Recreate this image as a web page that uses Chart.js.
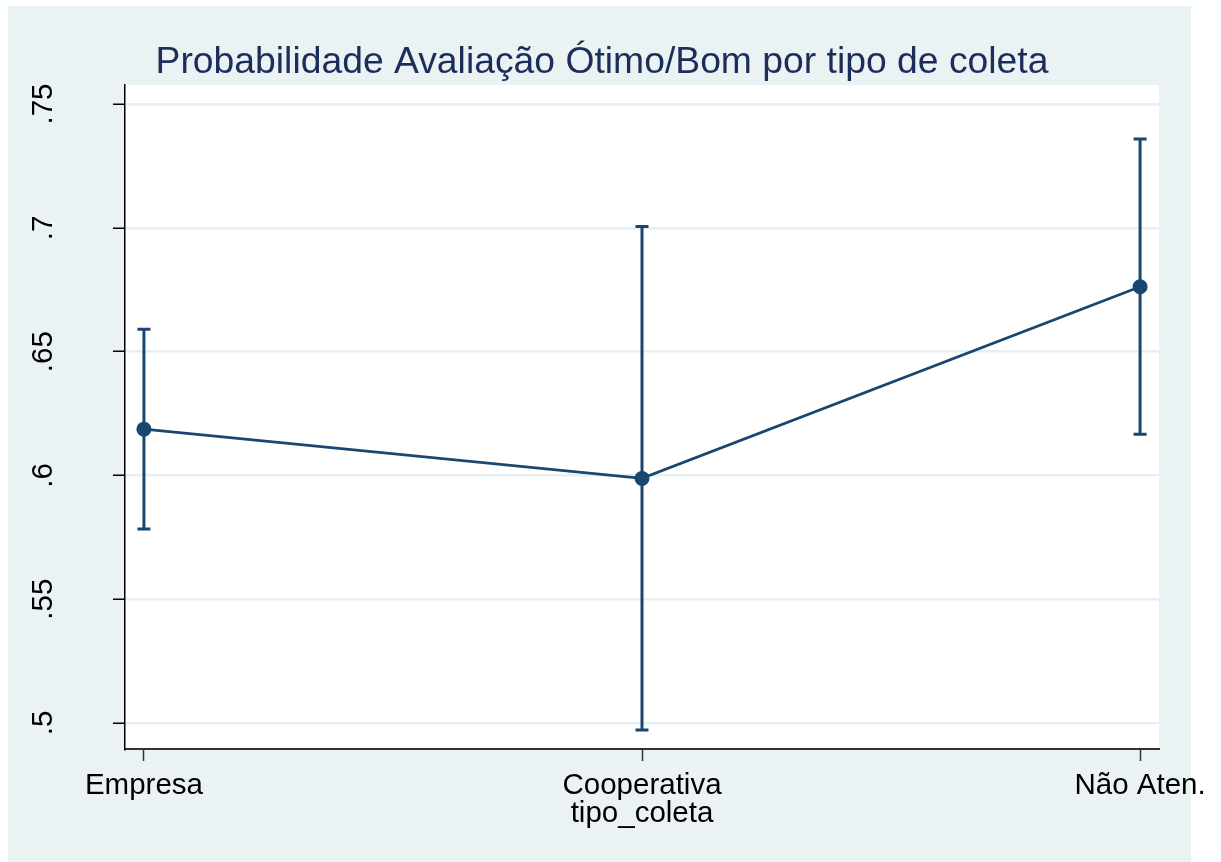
<!DOCTYPE html>
<html lang="pt">
<head>
<meta charset="UTF-8">
<title>Probabilidade Avaliação Ótimo/Bom por tipo de coleta</title>
<script src="https://cdn.jsdelivr.net/npm/chart.js"></script>
<style>
  html, body { margin: 0; padding: 0; background: #fff; }
  #wrap { width: 1221px; height: 862px; }
</style>
</head>
<body>
<div id="wrap"><canvas id="marginsChart"></canvas></div>
<script>
// Margins by tipo_coleta
const categories = ['Empresa', 'Cooperativa', 'Não Aten.'];
const margins = [0.6187, 0.5988, 0.6762];
const ciLower = [0.5784, 0.4972, 0.6166];
const ciUpper = [0.6590, 0.7005, 0.7359];
const yTicks = [0.5, 0.55, 0.6, 0.65, 0.7, 0.75];
const yTickLabels = ['.5', '.55', '.6', '.65', '.7', '.75'];

const titleText = 'Probabilidade Avaliação Ótimo/Bom por tipo de coleta';
const xTitle = 'tipo_coleta';

const navy = '#1a476f';
const panelBg = '#eaf2f3';
const font = '"Liberation Sans", Arial, sans-serif';

// Background, title, tick labels, error bars
const stataLook = {
    id: 'stataLook',
    beforeDraw(chart) {
        const ctx = chart.ctx;
        const a = chart.chartArea;
        ctx.save();
        ctx.fillStyle = '#fff';
        ctx.fillRect(0, 0, chart.width, chart.height);
        ctx.fillStyle = panelBg;
        ctx.fillRect(8, 6, 1183, 856);
        ctx.fillStyle = '#fff';
        ctx.fillRect(a.left, a.top, a.right - a.left, a.bottom - a.top);
        ctx.restore();
    },
    beforeDatasetsDraw(chart) {
        const ctx = chart.ctx;
        const xs = chart.scales.x, ys = chart.scales.y;
        ctx.save();
        ctx.strokeStyle = navy;
        ctx.lineWidth = 3;
        margins.forEach((m, i) => {
            const px = xs.getPixelForValue(i);
            const lo = ys.getPixelForValue(ciLower[i]);
            const hi = ys.getPixelForValue(ciUpper[i]);
            ctx.beginPath();
            ctx.moveTo(px, lo); ctx.lineTo(px, hi);
            ctx.moveTo(px - 6.5, lo); ctx.lineTo(px + 6.5, lo);
            ctx.moveTo(px - 6.5, hi); ctx.lineTo(px + 6.5, hi);
            ctx.stroke();
        });
        ctx.restore();
    },
    afterDraw(chart) {
        const ctx = chart.ctx;
        const xs = chart.scales.x, ys = chart.scales.y;
        ctx.save();
        // title
        ctx.fillStyle = '#1c2d5a';
        ctx.font = '37.3px ' + font;
        ctx.textAlign = 'center';
        ctx.textBaseline = 'alphabetic';
        ctx.fillText(titleText, 602, 73);
        // x labels
        ctx.fillStyle = '#000';
        ctx.font = '29.5px ' + font;
        categories.forEach((c, i) => {
            ctx.fillText(c, xs.getPixelForValue(i), 794);
        });
        ctx.fillText(xTitle, xs.getPixelForValue(1), 822);
        // y labels, rotated
        yTicks.forEach((v, i) => {
            ctx.save();
            ctx.translate(52, ys.getPixelForValue(v));
            ctx.rotate(-Math.PI / 2);
            ctx.fillText(yTickLabels[i], 0, 0);
            ctx.restore();
        });
        ctx.restore();
    }
};

new Chart(document.getElementById('marginsChart'), {
    type: 'line',
    data: {
        datasets: [{
            data: margins.map((m, i) => ({ x: i, y: m })),
            borderColor: navy,
            borderWidth: 2.8,
            backgroundColor: navy,
            pointBackgroundColor: navy,
            pointBorderColor: navy,
            pointRadius: 7.5,
            pointBorderWidth: 0,
            tension: 0
        }]
    },
    options: {
        responsive: true,
        maintainAspectRatio: false,
        animation: false,
        layout: { padding: { left: 0, top: 85, right: 62, bottom: 0 } },
        plugins: { legend: { display: false }, tooltip: { enabled: false } },
        scales: {
            x: {
                type: 'linear',
                min: -0.038,
                max: 2.038,
                afterBuildTicks: s => { s.ticks = categories.map((c, i) => ({ value: i })); },
                afterFit: s => { s.height = 113; },
                ticks: { display: false },
                grid: { drawOnChartArea: false, drawTicks: true, tickLength: 12, tickColor: '#333', tickWidth: 1.5 },
                border: { color: '#333', width: 2 }
            },
            y: {
                min: 0.4895,
                max: 0.7577,
                afterBuildTicks: s => { s.ticks = yTicks.map(v => ({ value: v })); },
                afterFit: s => { s.width = 125; },
                ticks: { display: false },
                grid: { color: '#e6eff1', lineWidth: 2.5, drawTicks: true, tickLength: 12, tickColor: '#000', tickWidth: 1.5 },
                border: { color: '#000', width: 1.5 }
            }
        }
    },
    plugins: [stataLook]
});
</script>
</body>
</html>
